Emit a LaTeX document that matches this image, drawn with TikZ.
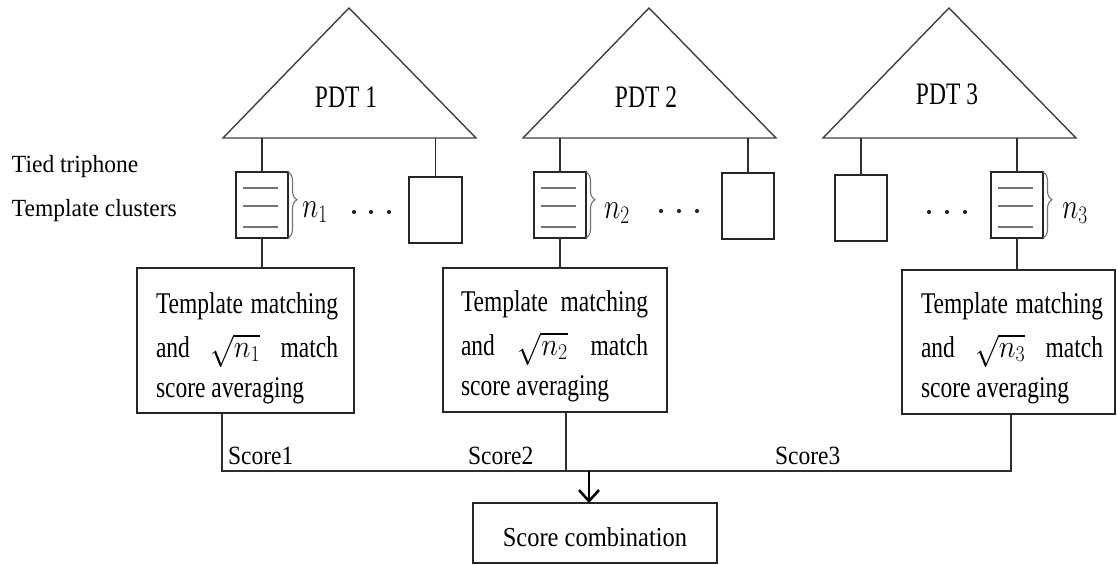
\documentclass[tikz,border=0pt]{standalone}
\usepackage{fontspec}
\setmainfont{Liberation Serif}
\usepackage{graphicx}
\usetikzlibrary{arrows.meta,decorations.pathreplacing}
\newcommand{\bigtxt}{\fontsize{23.5}{28}\selectfont}
\newcommand{\vstr}[2][1.25]{\scalebox{1}[#1]{#2}}
\begin{document}
\begin{tikzpicture}[x=1pt,y=-1pt,
  ln/.style={line width=1.3pt, draw=black!82},
  cell/.style={draw=black!85, line width=1.3pt, rectangle, inner sep=0pt, outer sep=0pt, anchor=north west, minimum width=52pt, minimum height=66pt},
  tbox/.style={draw=black!85, line width=1.3pt, rectangle, inner sep=0pt, outer sep=0pt, anchor=north west},
  txt/.style={inner sep=0pt, outer sep=0pt, anchor=base west, font=\bigtxt},
  ctxt/.style={inner sep=0pt, outer sep=0pt, anchor=base, font=\bigtxt},
  tri/.style={draw=black!75, line width=1.4pt, line join=miter},
  rulel/.style={draw=black!55, line width=1.4pt},
  brc/.style={draw=black!55, line width=1.1pt, decorate, decoration={brace, amplitude=9pt, aspect=0.42}},
  arr/.style={line width=2.8pt, draw=black, -{Straight Barb[length=11pt,width=20pt,line width=2.6pt]}}
]
\useasboundingbox (0,0) rectangle (1117,565);

% triangles (PDTs)
\draw[tri] (223,138) -- (349,8) -- (476,138) -- cycle;
\draw[tri] (523,138) -- (649,8) -- (776,138) -- cycle;
\draw[tri] (823,138) -- (949,8) -- (1076,138) -- cycle;
\coordinate (t1) at (349,138);
\coordinate (t2) at (649,138);
\coordinate (t3) at (949,138);
\node[ctxt] (p1) at (346,107) {\vstr[1.33]{PDT 1}};
\node[ctxt] (p2) at (646,107) {\vstr[1.33]{PDT 2}};
\node[ctxt] (p3) at (947,104) {\vstr[1.33]{PDT 3}};

% left labels
\node[txt] (lab1) at (12,172) {\vstr[1.05]{Tied triphone}};
\node[txt] (lab2) at (12,216) {\vstr[1.05]{Template clusters}};

% cluster boxes
\node[cell] (c1) at (236,172) {};
\node[cell] (c2) at (534,172) {};
\node[cell] (c3) at (991,172) {};
\foreach \c in {c1,c2,c3}{
  \foreach \o in {16,34,55}{
    \draw[rulel] ([xshift=7pt,yshift=-\o pt]\c.north west) -- ([xshift=-10pt,yshift=-\o pt]\c.north east);
  }
  \draw[brc] (\c.north east) -- (\c.south east);
  \draw[ln] (\c.north) -- (\c.north |- t1);
}
\node[txt] (n1) at (302,217) {\vstr[1.3]{\scalebox{1.12}{$n_1$}}};
\node[txt] (n2) at (604,218) {\vstr[1.3]{\scalebox{1.12}{$n_2$}}};
\node[txt] (n3) at (1062,218) {\vstr[1.3]{\scalebox{1.12}{$n_3$}}};

% empty boxes
\node[cell, minimum width=53pt] (e1) at (409,177) {};
\node[cell] (e2) at (722,173) {};
\node[cell] (e3) at (835,175) {};
\foreach \e in {e1,e2,e3}{
  \draw[ln] (\e.north) -- (\e.north |- t1);
}

% dots
\foreach \x in {354,371,389} \fill[black!85] (\x,212) circle (2.1pt);
\foreach \x in {661,679,697} \fill[black!85] (\x,211) circle (2.1pt);
\foreach \x in {929,947,965} \fill[black!85] (\x,212) circle (2.1pt);

% matching boxes
\node[tbox, minimum width=217pt, minimum height=145pt] (b1) at (137,268) {};
\node[tbox, minimum width=224pt, minimum height=144pt] (b2) at (443,268) {};
\node[tbox, minimum width=213pt, minimum height=144pt] (b3) at (902,270) {};
\draw[ln] (c1.south) -- (c1.south |- b1.north);
\draw[ln] (c2.south) -- (c2.south |- b2.north);
\draw[ln] (c3.south) -- (c3.south |- b3.north);

\node[txt] (b1l1) at (156,313) {\vstr[1.28]{\hbox to 182pt{Template\hfill matching}}};
\node[txt] (b1l2) at (156,357) {\hbox to 182pt{\vstr[1.28]{and}\hfill\scalebox{1.15}[1.3]{$\sqrt{n_1}$}\hfill\vstr[1.28]{match}}};
\node[txt] (b1l3) at (156,397) {\vstr[1.28]{score averaging}};

\node[txt] (b2l1) at (461,311) {\vstr[1.28]{\hbox to 187pt{Template\hfill matching}}};
\node[txt] (b2l2) at (461,355) {\hbox to 187pt{\vstr[1.28]{and}\hfill\scalebox{1.15}[1.3]{$\sqrt{n_2}$}\hfill\vstr[1.28]{match}}};
\node[txt] (b2l3) at (461,395) {\vstr[1.28]{score averaging}};

\node[txt] (b3l1) at (921,313) {\vstr[1.28]{\hbox to 182pt{Template\hfill matching}}};
\node[txt] (b3l2) at (921,357) {\hbox to 182pt{\vstr[1.28]{and}\hfill\scalebox{1.15}[1.3]{$\sqrt{n_3}$}\hfill\vstr[1.28]{match}}};
\node[txt] (b3l3) at (921,397) {\vstr[1.28]{score averaging}};

% bus
\coordinate (j1) at (222,471);
\coordinate (j2) at (566,471);
\coordinate (j3) at (1011,471);
\coordinate (ja) at (589,471);
\draw[ln] (b1.south -| j1) -- (j1) -- (j3) -- (b3.south -| j3);
\draw[ln] (b2.south -| j2) -- (j2);

\node[txt] (s1) at (228,464) {\vstr[1.12]{Score1}};
\node[txt] (s2) at (468,464) {\vstr[1.12]{Score2}};
\node[txt] (s3) at (775,464) {\vstr[1.12]{Score3}};

% score combination
\node[tbox, minimum width=244pt, minimum height=60pt] (sc) at (473,503) {};
\node[ctxt, font=\fontsize{24.5}{28}\selectfont] (sct) at (595,546) {\vstr[1.12]{Score combination}};
\draw[arr] (ja) -- (sc.north -| ja);
\end{tikzpicture}
\end{document}
